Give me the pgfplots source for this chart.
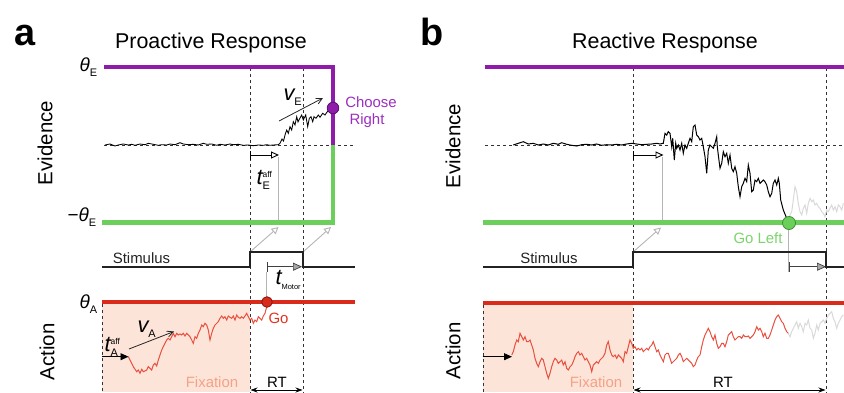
\documentclass[border=0pt]{standalone}
\usepackage{pgfplots}
\pgfplotsset{compat=1.18}
\usepackage{fontspec}
\setmainfont{Liberation Sans}
\usetikzlibrary{arrows.meta}

\definecolor{bndE}{HTML}{8E1BAA}
\definecolor{bndEd}{HTML}{5A0E6E}
\definecolor{choose}{HTML}{9B2FBF}
\definecolor{bndL}{HTML}{6CCF5B}
\definecolor{bndLd}{HTML}{3F8F35}
\definecolor{golefttxt}{HTML}{7BD46A}
\definecolor{bndA}{HTML}{DA2A1C}
\definecolor{bndAd}{HTML}{7F1510}
\definecolor{acttrace}{HTML}{E8503F}
\definecolor{gotxt}{HTML}{E0331F}
\definecolor{fixfill}{HTML}{FDE4D9}
\definecolor{fixtxt}{HTML}{F5A286}
\definecolor{greyarr}{HTML}{B4B4B4}
\definecolor{greytrace}{HTML}{D9D9D9}
\definecolor{stim}{HTML}{222222}

\newcommand\fs[1]{\fontsize{#1}{#1}\selectfont}
% symbol with a subscript (and optional superscript) set as one piece of text
\newcommand\subsym[3]{#1\raisebox{-5.5bp}{\fs{11}\upshape #2}}
\newcommand\subsupsym[3]{#1\makebox[0pt][l]{\raisebox{7bp}{\fs{8.5}\upshape #3}}\raisebox{-5.5bp}{\fs{11}\upshape #2}}

\tikzset{
  dashln/.style={black!80, line width=0.9bp, dash pattern=on 3bp off 3bp},
  affarrow/.style={black, line width=0.9bp,
    {Bar[width=9bp,line width=0.9bp]}-{Triangle[open,length=8bp,width=7bp,line width=0.9bp]}},
  greyarrow/.style={greyarr, line width=0.9bp, -{Triangle[open,length=7bp,width=7bp,line width=0.9bp]}},
  motorarrow/.style={black!75, line width=0.9bp,
    {Bar[width=10bp,line width=0.9bp]}-{Triangle[length=9bp,width=8bp,color=black!75,fill=gray!70,line width=0.7bp]}},
  driftarrow/.style={black!85, line width=0.8bp, -{Straight Barb[length=6bp,width=6bp,line width=0.8bp]}},
  rtarrow/.style={black, line width=0.8bp, {Stealth[length=7bp,width=5bp]}-{Stealth[length=7bp,width=5bp]}},
}

\begin{document}
\begin{tikzpicture}
\begin{axis}[
  width=844bp, height=393bp, scale only axis,
  xmin=0, xmax=844, ymin=0, ymax=393, y dir=reverse,
  axis lines=none, clip=false,
]
% ---------------- panel a: proactive response ----------------
% fixation period shading
\addplot[fill=fixfill, draw=none] coordinates {(102,302) (250,302) (250,392) (102,392)} -- cycle;

% event markers
\addplot[dashln] coordinates {(250,68) (250,393)};
\addplot[dashln] coordinates {(303,68) (303,393)};
\addplot[dashln] coordinates {(102,304) (102,393)};
\addplot[dashln] coordinates {(104,145) (355,145)};

% afferent delay, motor delay and causal links
\addplot[greyarr, line width=0.9bp] coordinates {(278,157) (278,224)};
\addplot[greyarrow] coordinates {(250,252) (278.5,227)};
\addplot[greyarrow] coordinates {(303,252) (331,227)};
\addplot[affarrow] coordinates {(250,155) (279,155)};
\addplot[greyarr, line width=0.9bp] coordinates {(266.7,272) (266.7,298)};
\addplot[motorarrow] coordinates {(266.5,266.7) (302,266.7)};

% evidence accumulation
\addplot[black, line width=0.85bp] coordinates {
(105,145)(110,144)(115,146)(118.3,145)(123.3,144)(128.3,145)(131.7,144.3)(135,145.3)(140,144)(145,144.7)
(148.3,143.3)(153.3,144.3)(158.3,145.3)(161.7,144.7)(166.7,145)(170,144)(175,144.7)(180,142.7)(183.3,144)
(188.3,144.7)(193.3,144.3)(198.3,145)(203.3,143.3)(206.7,144.3)(211.7,144)(216.7,145.3)(220,144.3)(225,145)
(230,144)(233.3,144.7)(238.3,144.3)(243.3,145.3)(248.3,145)(253.3,145.7)(258.3,145)(263.3,145.3)(266.7,144.7)
(270,145.3)(273.3,145)(278.3,144.7)(280,143.3)
(282,139)(283.5,141)(285,135)(286.7,130)(288.3,133.3)(290,126.7)(291.7,130)(293.3,121.7)(295,125)
(296.7,116.7)(298,122)(299.3,119.3)(301.7,115)(303.3,120)(305.7,115)(307.7,126.7)(309.3,118.3)(311,116.7)
(312.7,121.7)(314,116.7)(316,118.3)(318.3,115)(320,117.3)(322.7,113.3)(325,115)(327.3,111.7)(330,109.3)(333,108)};

% action accumulation
\addplot[acttrace, line width=1bp] coordinates {
(128.3,356.7)(133.3,366.7)(136.7,371.7)(138.3,370)(140,373.3)(141.7,369.3)(143.3,371.7)(146.7,370)(148.3,366.7)
(150,368.3)(151.7,370)(153.3,365)(155,363.3)(156.7,366)(158.3,360)(160,355)(161.7,350)(163.3,346.7)(165,343.3)
(166.7,340)(168.3,338.3)(170,340)(171.7,336.7)(173.3,333.3)(175,336.7)(176.7,333.3)(178.3,335)(180,334)
(181.7,335)(183.3,333.3)(185,336)(186.7,333.3)(190,336.7)(191.7,340)(193.3,343.3)(195,336.7)(196.7,338.3)
(198.3,333.3)(200,330)(201.7,325)(203.3,326.7)(205,323.3)(206.7,325)(208.3,330)(210,340)(211.7,333.3)
(213.3,328.3)(215,325)(216.7,323.3)(218.3,321.7)(220,318.3)(221.7,316)(223.3,318.3)(225,316.7)(226.7,320)
(228.3,316)(230,317.3)(231.7,318.3)(233.3,316)(235,320)(236.7,315)(238.3,317.3)(240,318.3)(241.7,316.7)
(243.3,318.3)(245,316)(246.7,313.3)(248.3,316.7)(250,320)(251.7,318.3)(253.3,323.3)(255,320)(256.7,321.7)
(258.3,316.7)(260,318.3)(261.7,320)(263.3,316)(265,313.3)(266.7,306.7)(267,302)};

% stimulus time course
\addplot[stim, line width=1.7bp] coordinates {(102,267) (250,267) (250,252) (303,252) (303,267) (355,267)};

% decision bounds
\addplot[bndE, line width=4.2bp] coordinates {(104,67) (335,67)};
\addplot[bndE, line width=4.2bp] coordinates {(333,65) (333,145)};
\addplot[bndL, line width=4.2bp] coordinates {(333,145) (333,224)};
\addplot[bndL, line width=4.2bp] coordinates {(102,222.5) (335,222.5)};
\addplot[bndA, line width=4.2bp] coordinates {(102,302) (355,302)};

% drift arrows
\addplot[driftarrow] coordinates {(279,121) (323,98)};
\addplot[driftarrow] coordinates {(129,349) (174,331.5)};
\addplot[black, line width=0.9bp, -{Triangle[length=8bp,width=7bp]}] coordinates {(101.5,356.7) (128.5,356.7)};
\addplot[rtarrow] coordinates {(250.5,390) (302.5,390)};

% bound crossings
\addplot[only marks, mark=*, mark size=5.8bp, mark options={fill=bndE, draw=bndEd, line width=0.8bp}] coordinates {(333,108)};
\addplot[only marks, mark=*, mark size=5.3bp, mark options={fill=bndA, draw=bndAd, line width=0.8bp}] coordinates {(267,302)};

% labels
\node[anchor=base, font=\fs{38}\bfseries] at (axis cs:25,45) {a};
\node[anchor=base, font=\fs{21.5}] at (axis cs:211,48) {Proactive Response};
\node[rotate=90, font=\fs{20.5}] at (axis cs:45,143) {Evidence};
\node[rotate=90, font=\fs{20.5}] at (axis cs:47,352) {Action};
\node[anchor=base west, font=\fs{19}\itshape] at (axis cs:76,71) {\subsym{θ}{E}{}};
\node[anchor=base west, font=\fs{19}\itshape] at (axis cs:64,221) {\subsym{\upshape−\itshape θ}{E}{}};
\node[anchor=base west, font=\fs{19}\itshape] at (axis cs:76,308) {\subsym{θ}{A}{}};
\node[anchor=base west, font=\fs{22}\itshape] at (axis cs:280,100) {\subsym{v}{E}{}};
\node[anchor=base west, font=\fs{22}\itshape] at (axis cs:253,184) {\subsupsym{t}{E}{aff}};
\node[anchor=base west, font=\fs{22}\itshape] at (axis cs:272,284) {t\raisebox{-5bp}{\fs{7.5}\upshape Motor}};
\node[anchor=base west, font=\fs{22}\itshape] at (axis cs:134,332) {\subsym{v}{A}{}};
\node[anchor=base west, font=\fs{22}\itshape] at (axis cs:101,351) {\subsupsym{t}{A}{aff}};
\node[anchor=base, font=\fs{15}, text=choose] at (axis cs:371,107) {Choose};
\node[anchor=base, font=\fs{15}, text=choose] at (axis cs:367,124) {Right};
\node[anchor=base, font=\fs{15}, text=gotxt] at (axis cs:278.5,323) {Go};
\node[anchor=base, font=\fs{15}, text=stim] at (axis cs:141.5,263.5) {Stimulus};
\node[anchor=base, font=\fs{15}, text=fixtxt] at (axis cs:212,387) {Fixation};
\node[anchor=base, font=\fs{15}] at (axis cs:277,387) {RT};

% ---------------- panel b: reactive response ----------------
\addplot[fill=fixfill, draw=none] coordinates {(483,303) (633,303) (633,392) (483,392)} -- cycle;

\addplot[dashln] coordinates {(633,68) (633,393)};
\addplot[dashln] coordinates {(826,68) (826,393)};
\addplot[dashln] coordinates {(483,305) (483,393)};
\addplot[dashln] coordinates {(485,145) (844,145)};

\addplot[greyarr, line width=0.9bp] coordinates {(662.5,157) (662.5,221)};
\addplot[greyarrow] coordinates {(633,252) (661,227.5)};
\addplot[affarrow] coordinates {(633,155) (663.5,155)};
\addplot[greyarr, line width=0.9bp] coordinates {(788.5,228) (788.5,272)};
\addplot[motorarrow] coordinates {(788.5,266.7) (826,266.7)};

% evidence accumulation (grey: after the decision)
\addplot[greytrace, line width=1bp] coordinates {
(789,223)(790,215)(791.7,211.7)(793.3,200)(795,186.7)(796.7,191.7)(798.3,203.3)(800,211.7)(801.7,215)
(803.3,208.3)(805,205)(806.7,213.3)(808.3,203.3)(810,198.3)(811.7,201.7)(813.3,200)(815,205)(816.7,203.3)
(818.3,206.7)(820,208.3)(821.7,211.7)(823.3,213.3)(825,216.7)(826.7,210)(828.3,211.7)(830,208.3)(831.7,205)
(833.3,210)(835,206.7)(836.7,211.7)(838.3,205)(840,206.7)(841.7,210)(843.3,203.3)};
\addplot[black, line width=1bp] coordinates {
(513.3,145)(518.3,143.3)(523.3,141.7)(528.3,144)(533.3,143.3)(538.3,145)(543.3,144)(548.3,145)(553.3,143.3)
(558.3,144.3)(561.7,142.7)(566.7,144.3)(571.7,145.3)(576.7,146)(581.7,144.7)(586.7,144.3)(591.7,145)
(596.7,144)(601.7,145.3)(606.7,144.7)(611.7,145)(616.7,144.3)(621.7,145)(626.7,144)(631.7,143.3)(636.7,144)
(641.7,144.7)(646.7,144.3)(651.7,144)(656.7,143.3)(660,144)(663.3,143.3)
(665,133.3)(666.7,135)(668.3,131.7)(670,133.3)(671.7,146.7)(672.7,138.3)(674.3,160)(675.7,143.3)(676.7,148.3)
(678.3,145)(680,150)(681.7,143.3)(683.3,153.3)(685,145)(686.7,148.3)(688.3,143.3)(690,138.3)(691.7,141.7)
(693.3,126.7)(695,125)(696.7,135)(698.3,136.7)(700,140)(701.7,138.3)(703.3,146.7)(705,156.7)(706.7,173.3)
(708.3,150)(710,145)(711.7,146.7)(713.3,148.3)(715,143.3)(716.7,136.7)(717.3,146.7)(718.3,155)(720,168.3)
(721.7,163.3)(723.3,151.7)(725,156.7)(726.7,153.3)(728.3,163.3)(730,155)(731.7,168.3)(733.3,171.7)(735,166.7)
(736.7,173.3)(738.3,186.7)(740,196.7)(741.7,186.7)(743.3,183.3)(745,178.3)(746.7,181.7)(748.3,165)(750,173.3)
(751.7,191.7)(753.3,190)(755,180)(756.7,181.7)(758.3,178.3)(760,183.3)(761.7,181.7)(763.3,180)(765,181.7)
(766.7,185)(768.3,191.7)(770,196.7)(771.7,193.3)(773.3,183.3)(775,180)(776.7,185)(778.3,178.3)(779.3,183.3)
(780.7,200)(783.3,210)(786.7,218.3)(789,223)};

% action accumulation (grey: after the decision)
\addplot[greytrace, line width=1bp] coordinates {
(788.3,333.3)(790,336.7)(791.7,331.7)(793.3,328.3)(795,325)(796.7,321.7)(798.3,328.3)(800,323.3)(801.7,326.7)
(803.3,331.7)(805,323.3)(806.7,325)(808.3,320)(810,328.3)(811.7,330)(813.3,338.3)(815,333.3)(816.7,325)
(818.3,330)(820,323.3)(821.7,321.7)(823.3,320)(825,323.3)(826.7,318.3)(828.3,315)(830,313.3)(831.7,311.7)
(833.3,318.3)(835,321.7)(836.7,328.3)(838.3,323.3)(840,320)(841.7,316.7)(843.3,315)};
\addplot[acttrace, line width=1bp] coordinates {
(511.7,355)(513.3,351.7)(515,345)(516.7,340)(518.3,341.7)(520,333.3)(521.7,336.7)(523.3,340)(525,336.7)
(526.7,341.7)(528.3,341.7)(530,340)(531.7,345)(533.3,350)(535,358.3)(536.7,363.3)(538.3,366.7)(540,361.7)
(541.7,358.3)(543.3,360)(545,366.7)(546.7,373.3)(548.3,378.3)(550,373.3)(551.7,366.7)(553.3,361.7)(555,358.3)
(556.7,360)(558.3,363.3)(560,361.7)(561.7,360)(563.3,365)(565,361.7)(566.7,368.3)(568.3,370)(570,366.7)
(571.7,365)(573.3,361.7)(575,356.7)(576.7,353.3)(578.3,351.7)(580,355)(581.7,353.3)(583.3,356.7)(585,360)
(586.7,358.3)(588.3,361.7)(590,365)(591.7,371.7)(593.3,365)(595,363.3)(596.7,361.7)(598.3,363.3)(600,360)
(601.7,358.3)(603.3,356.7)(605,353.3)(606.7,345)(608.3,341.7)(610,350)(611.7,355)(613.3,356.7)(615,355)
(616.7,358.3)(618.3,355)(620,356.7)(621.7,358.3)(623.3,361.7)(625,351.7)(626.7,353.3)(628.3,346.7)(630,340)
(631.7,343.3)(633.3,348.3)(635,346.7)(636.7,350)(638.3,348.3)(640,350)(641.7,348.3)(643.3,351.7)(645,350)
(646.7,348.3)(648.3,350)(650,346.7)(651.7,345)(653.3,341.7)(655,346.7)(656.7,351.7)(658.3,350)(660,355)
(661.7,358.3)(663.3,361.7)(665,355)(666.7,353.3)(668.3,353.3)(670,358.3)(671.7,363.3)(673.3,361.7)(675,360)
(676.7,358.3)(678.3,355)(680,353.3)(681.7,356.7)(683.3,361.7)(685,360)(686.7,358.3)(688.3,360)(690,361.7)
(691.7,363.3)(693.3,366.7)(695,365)(696.7,360)(698.3,356.7)(700,355)(701.7,346.7)(703.3,340)(705,335)
(706.7,331.7)(708.3,328.3)(710,331.7)(711.7,336.7)(713.3,340)(715,335)(716.7,343.3)(718.3,348.3)(720,346.7)
(721.7,343.3)(723.3,343.3)(725,346.7)(726.7,341.7)(728.3,335)(730,333.3)(731.7,331.7)(733.3,336.7)(735,340)
(736.7,338.3)(738.3,336.7)(740,336.7)(741.7,338.3)(743.3,335)(745,336.7)(746.7,336.7)(748.3,336)(750,338.3)
(751.7,336.7)(753.3,335)(755,331.7)(756.7,326.7)(758.3,330)(760,328.3)(761.7,331.7)(763.3,336.7)(765,333.3)
(766.7,338.3)(768.3,338.3)(770,335)(771.7,330)(773.3,325)(775,320)(776.7,316.7)(778.3,315)(780,318.3)
(781.7,321.7)(783.3,323.3)(785,328.3)(786.7,331.7)(788.3,333.3)};

\addplot[stim, line width=1.7bp] coordinates {(483,267) (633,267) (633,252) (826,252) (826,267) (844,267)};

\addplot[bndE, line width=4.2bp] coordinates {(485,67) (844,67)};
\addplot[bndL, line width=4.2bp] coordinates {(483,222.5) (844,222.5)};
\addplot[bndA, line width=4.2bp] coordinates {(483,303) (844,303)};

\addplot[black, line width=0.9bp, -{Triangle[length=8bp,width=7bp]}] coordinates {(482.5,356.7) (512,356.7)};
\addplot[rtarrow] coordinates {(633.5,390) (825.5,390)};

\addplot[only marks, mark=*, mark size=6.5bp, mark options={fill=bndL, draw=bndLd, line width=0.8bp}] coordinates {(789,223)};

\node[anchor=base, font=\fs{38}\bfseries] at (axis cs:432,45) {b};
\node[anchor=base, font=\fs{21.5}] at (axis cs:665,48) {Reactive Response};
\node[rotate=90, font=\fs{20.5}] at (axis cs:453,146) {Evidence};
\node[rotate=90, font=\fs{20.5}] at (axis cs:453,351) {Action};
\node[anchor=base, font=\fs{15}, text=golefttxt] at (axis cs:758,243) {Go Left};
\node[anchor=base, font=\fs{15}, text=stim] at (axis cs:549,263.5) {Stimulus};
\node[anchor=base, font=\fs{15}, text=fixtxt] at (axis cs:596,387) {Fixation};
\node[anchor=base, font=\fs{15}] at (axis cs:723,387) {RT};
\end{axis}
% the page is exactly the axis area
\pgfresetboundingbox
\useasboundingbox (current axis.south west) rectangle (current axis.north east);
\end{tikzpicture}
\end{document}
